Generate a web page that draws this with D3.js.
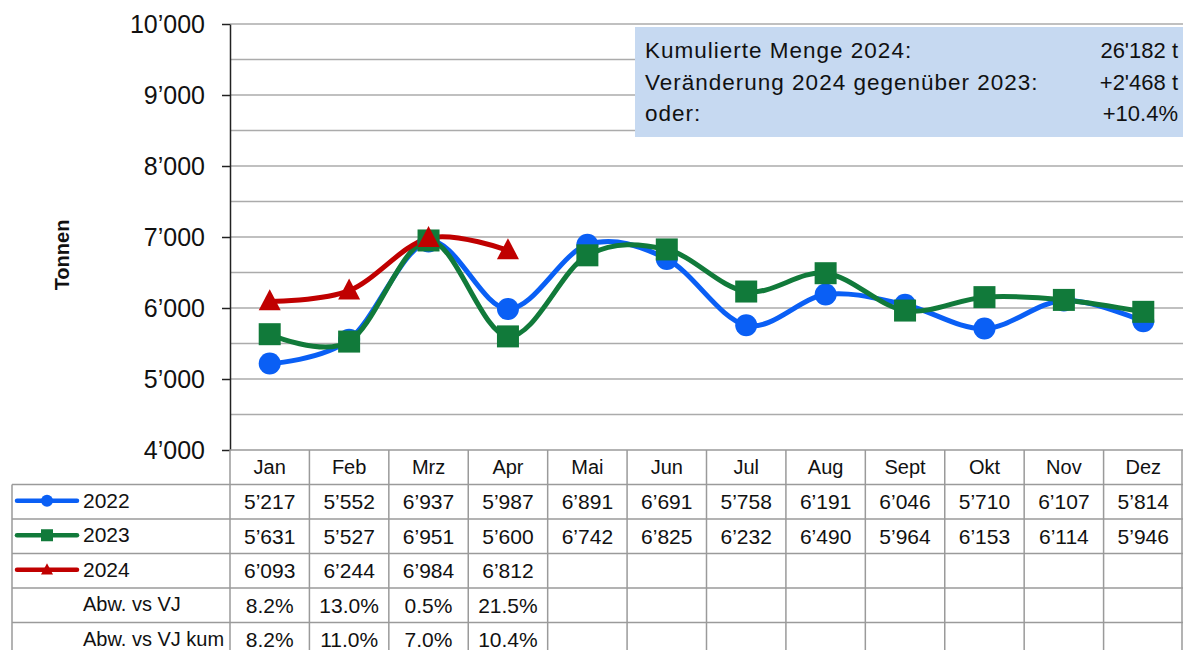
<!DOCTYPE html>
<html><head><meta charset="utf-8">
<script src="https://cdn.jsdelivr.net/npm/d3@7"></script>
<style>body{margin:0;background:#fff;overflow:hidden}svg{display:block;font-family:"Liberation Sans",Arial,sans-serif}</style>
</head><body><svg id="c" width="1183" height="650"></svg>
<script>
const months = ["Jan","Feb","Mrz","Apr","Mai","Jun","Jul","Aug","Sept","Okt","Nov","Dez"];
const v2022 = [5217,5552,6937,5987,6891,6691,5758,6191,6046,5710,6107,5814];
const v2023 = [5631,5527,6951,5600,6742,6825,6232,6490,5964,6153,6114,5946];
const v2024 = [6093,6244,6984,6812];
const abwVJ = ["8.2%","13.0%","0.5%","21.5%"];
const abwVJkum = ["8.2%","11.0%","7.0%","10.4%"];
const yTicks = [4000,5000,6000,7000,8000,9000,10000];
const yGrid = [4500,5000,5500,6000,6500,7000,7500,8000,8500,9000,9500,10000];
const boxLines = [["Kumulierte Menge 2024:","26'182 t"],["Veränderung 2024 gegenüber 2023:","+2'468 t"],["oder:","+10.4%"]];
const yTitle = "Tonnen";

const series = [
  {name:"2022", values:v2022, color:"#0a5ff5", marker:"circle"},
  {name:"2023", values:v2023, color:"#117a3a", marker:"square"},
  {name:"2024", values:v2024, color:"#c00000", marker:"triangle"}
];

const loc = d3.formatLocale({decimal:".", thousands:"\u2019", grouping:[3], currency:["",""]});
const fmt = loc.format(",d");

const svg = d3.select("#c");
const L = 230, R = 1183, T = 24, B = 450;
const x = d3.scaleBand().domain(months).range([L, R]).padding(0);
const y = d3.scaleLinear().domain([4000, 10000]).range([B, T]);
const gridCol = "#ababab";

// grid
svg.append("g").selectAll("line").data(yGrid).join("line")
  .attr("x1", L).attr("x2", R).attr("y1", d=>y(d)).attr("y2", d=>y(d))
  .attr("stroke", gridCol).attr("stroke-width", 1.5);

// info box
const bx = 635, by = 27, bw = R - bx, bh = 110;
svg.append("rect").attr("x", bx).attr("y", by).attr("width", bw).attr("height", bh).attr("fill", "#c6d9f1");
boxLines.forEach((l, i) => {
  const ty = 58 + i * 31.5;
  svg.append("text").attr("x", 645).attr("y", ty).attr("font-size", 22.5).attr("letter-spacing", 1).attr("fill", "#111").text(l[0]);
  svg.append("text").attr("x", 1178).attr("y", ty).attr("font-size", 22).attr("fill", "#111").attr("text-anchor", "end").text(l[1]);
});

// y axis
const yAxis = d3.axisLeft(y).tickValues(yTicks).tickFormat(fmt).tickSize(8).tickSizeOuter(0);
const ga = svg.append("g").attr("transform", `translate(${L},0)`).call(yAxis);
ga.select(".domain").attr("stroke", "#222").attr("stroke-width", 1.5);
ga.selectAll(".tick line").attr("stroke", "#222").attr("stroke-width", 1.5);
ga.selectAll(".tick text").attr("font-size", 25).attr("fill", "#111").attr("x", -25)
  .attr("font-family", "Liberation Sans, Arial, sans-serif");

svg.append("text").attr("transform", "translate(69,255) rotate(-90)").attr("text-anchor", "middle")
  .attr("font-size", 20).attr("font-weight", "bold").attr("fill", "#111").text(yTitle);

// lines
const line = d3.line().x((d,i)=>x(months[i]) + x.bandwidth()/2).y(d=>y(d)).curve(d3.curveCatmullRom.alpha(0));
series.forEach(s => {
  svg.append("path").datum(s.values).attr("d", line).attr("fill", "none")
    .attr("stroke", s.color).attr("stroke-width", 5);
});
function drawMarker(g, type, cx, cy, color, size) {
  if (type === "circle") g.append("circle").attr("cx", cx).attr("cy", cy).attr("r", size*0.5).attr("fill", color);
  else if (type === "square") g.append("rect").attr("x", cx - size/2).attr("y", cy - size/2).attr("width", size).attr("height", size).attr("fill", color);
  else g.append("path").attr("d", `M${cx},${cy - size*0.55}L${cx + size*0.5},${cy + size*0.4}L${cx - size*0.5},${cy + size*0.4}Z`).attr("fill", color);
}
const mg = svg.append("g");
series.forEach(s => {
  s.values.forEach((v, i) => drawMarker(mg, s.marker, x(months[i]) + x.bandwidth()/2, y(v), s.color, 22));
});

// table
const rowH = 34.5;
const tg = svg.append("g");
const border = "#9a9a9a";
const rows = [
  {label:"2022", vals: v2022.map(fmt), s: series[0]},
  {label:"2023", vals: v2023.map(fmt), s: series[1]},
  {label:"2024", vals: v2024.map(fmt), s: series[2]},
  {label:"Abw. vs VJ", vals: abwVJ},
  {label:"Abw. vs VJ kum", vals: abwVJkum}
];
// header row
months.forEach(m => {
  tg.append("text").attr("x", x(m) + x.bandwidth()/2).attr("y", B + rowH/2 + 7).attr("text-anchor", "middle")
    .attr("font-size", 20).attr("fill", "#111").text(m);
});
rows.forEach((r, ri) => {
  const ry = B + rowH * (ri + 1);
  months.forEach((m, i) => {
    if (r.vals[i] !== undefined)
      tg.append("text").attr("x", x(m) + x.bandwidth()/2).attr("y", ry + rowH/2 + 7.5).attr("text-anchor", "middle")
        .attr("font-size", 21).attr("fill", "#111").text(r.vals[i]);
  });
  if (r.s) {
    tg.append("line").attr("x1", 17).attr("x2", 77).attr("y1", ry + rowH/2 - 1).attr("y2", ry + rowH/2 - 1)
      .attr("stroke", r.s.color).attr("stroke-width", 4.5).attr("stroke-linecap", "round");
    drawMarker(tg, r.s.marker, 47, ry + rowH/2 - 1, r.s.color, 12);
    tg.append("text").attr("x", 83).attr("y", ry + rowH/2 + 6).attr("font-size", 21).attr("fill", "#111").text(r.label);
  } else {
    tg.append("text").attr("x", 83).attr("y", ry + rowH/2 + 6).attr("font-size", 20).attr("fill", "#111").text(r.label);
  }
});
// table grid lines
const nRows = rows.length + 1;
for (let k = 0; k <= nRows; k++) {
  const yy = B + rowH * k;
  tg.append("line").attr("x1", k === 0 ? L : 12).attr("x2", R).attr("y1", yy).attr("y2", yy).attr("stroke", border).attr("stroke-width", 1.5);
}
months.forEach((m, i) => {
  tg.append("line").attr("x1", x(m)).attr("x2", x(m)).attr("y1", B).attr("y2", B + rowH*nRows).attr("stroke", border).attr("stroke-width", 1.5);
});
tg.append("line").attr("x1", 12).attr("x2", 12).attr("y1", B + rowH).attr("y2", B + rowH*nRows).attr("stroke", border).attr("stroke-width", 1.5);
tg.append("line").attr("x1", R-1).attr("x2", R-1).attr("y1", B).attr("y2", B + rowH*nRows).attr("stroke", border).attr("stroke-width", 1.5);
</script></body></html>
